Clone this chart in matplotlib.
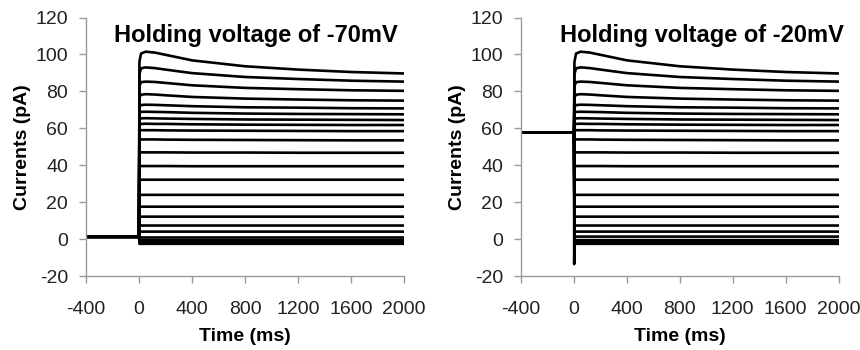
import matplotlib
matplotlib.use("Agg")
import matplotlib.pyplot as plt

plt.rcParams["font.family"] = ["Liberation Sans", "DejaVu Sans"]
plt.rcParams["axes.unicode_minus"] = False

# ── Data ──────────────────────────────────────────────────────────────────────
# sample times (ms) after the voltage step
T_POST = [3, 15, 50, 120, 200, 400, 800, 1200, 1600, 2000]

# one row per sweep: current (pA) at T_POST
SWEEPS = [
    [96.0, 100.5, 101.5, 101.0, 99.8, 96.8, 93.6, 91.8, 90.5, 89.7],
    [89.5, 92.5, 93.0, 92.6, 91.8, 89.9, 87.8, 86.7, 85.8, 85.3],
    [83.0, 85.0, 85.3, 85.1, 84.6, 83.3, 81.9, 81.2, 80.6, 80.3],
    [76.8, 78.2, 78.5, 78.3, 77.9, 77.0, 76.1, 75.6, 75.2, 75.0],
    [71.5, 72.6, 72.8, 72.7, 72.5, 72.0, 71.4, 71.2, 70.9, 70.8],
    [68.2, 68.9, 69.0, 68.9, 68.8, 68.4, 68.0, 67.8, 67.7, 67.6],
    [65.0, 65.4, 65.5, 65.4, 65.3, 65.1, 64.8, 64.7, 64.6, 64.5],
    [62.1, 62.4, 62.5, 62.4, 62.4, 62.2, 62.0, 61.9, 61.8, 61.8],
    [58.8, 59.0, 59.0, 59.0, 58.9, 58.8, 58.7, 58.6, 58.5, 58.5],
    [53.8, 54.0, 54.0, 54.0, 53.9, 53.8, 53.7, 53.6, 53.5, 53.5],
    [47.0, 47.0, 47.0, 47.0, 47.0, 46.9, 46.9, 46.8, 46.8, 46.8],
    [39.6, 39.6, 39.6, 39.6, 39.6, 39.5, 39.5, 39.5, 39.5, 39.5],
    [32.2, 32.2, 32.2, 32.2, 32.2, 32.2, 32.2, 32.2, 32.2, 32.2],
    [24.0, 24.0, 24.0, 24.0, 24.0, 24.0, 24.0, 24.0, 24.0, 24.0],
    [17.6, 17.6, 17.6, 17.6, 17.6, 17.6, 17.6, 17.6, 17.6, 17.6],
    [12.2, 12.2, 12.2, 12.2, 12.2, 12.2, 12.2, 12.2, 12.2, 12.2],
    [7.4, 7.4, 7.4, 7.4, 7.4, 7.4, 7.4, 7.4, 7.4, 7.4],
    [4.1, 4.1, 4.1, 4.1, 4.1, 4.1, 4.1, 4.1, 4.1, 4.1],
    [1.4, 1.4, 1.4, 1.4, 1.4, 1.4, 1.4, 1.4, 1.4, 1.4],
    [-0.5, -0.5, -0.5, -0.5, -0.5, -0.5, -0.5, -0.5, -0.5, -0.5],
    [-1.5, -1.5, -1.5, -1.5, -1.5, -1.5, -1.5, -1.5, -1.5, -1.5],
    [-2.5, -2.5, -2.5, -2.5, -2.5, -2.5, -2.5, -2.5, -2.5, -2.5],
]

PANELS = [
    {"title": "Holding voltage of -70mV", "holding": 1.4, "dip": None},
    {"title": "Holding voltage of -20mV", "holding": 57.8, "dip": -13.5},
]

X_TICKS = [-400, 0, 400, 800, 1200, 1600, 2000]
Y_TICKS = [-20, 0, 20, 40, 60, 80, 100, 120]

# ── Plot ──────────────────────────────────────────────────────────────────────
fig = plt.figure(figsize=(8.6, 3.5), dpi=100)
axes = [fig.add_axes([0.100, 0.211, 0.370, 0.739]),
        fig.add_axes([0.606, 0.211, 0.369, 0.739])]
title_x = [0.98, 1.016]

for ax, panel, tx in zip(axes, PANELS, title_x):
    hold = panel["holding"]
    for k, sweep in enumerate(SWEEPS):
        t = [-400, 0]
        y = [hold, hold]
        if panel["dip"] is not None and k == len(SWEEPS) - 1:
            t += [1]
            y += [panel["dip"]]
        t += T_POST
        y += sweep
        ax.plot(t, y, color="black", lw=1.9, solid_joinstyle="round")

    ax.set_xlim(-400, 2000)
    ax.set_ylim(-20, 120)
    ax.set_xticks(X_TICKS)
    ax.set_yticks(Y_TICKS)
    for s in ["top", "right"]:
        ax.spines[s].set_visible(False)
    for s in ["left", "bottom"]:
        ax.spines[s].set_color("#9a9a9a")
        ax.spines[s].set_linewidth(1.0)
    ax.tick_params(direction="out", length=5, width=1.0, color="#9a9a9a",
                   labelsize=14, labelcolor="#222222")
    ax.tick_params(axis="x", pad=13)
    ax.tick_params(axis="y", pad=8)
    ax.set_xlabel("Time (ms)", fontsize=14, fontweight="bold", labelpad=7)
    ax.set_ylabel("Currents (pA)", fontsize=14, fontweight="bold", labelpad=3)
    ax.text(tx, 0.93, panel["title"], transform=ax.transAxes,
            ha="right", va="center", fontsize=17, fontweight="bold")

fig.savefig("out.png", dpi=100, facecolor="white")
